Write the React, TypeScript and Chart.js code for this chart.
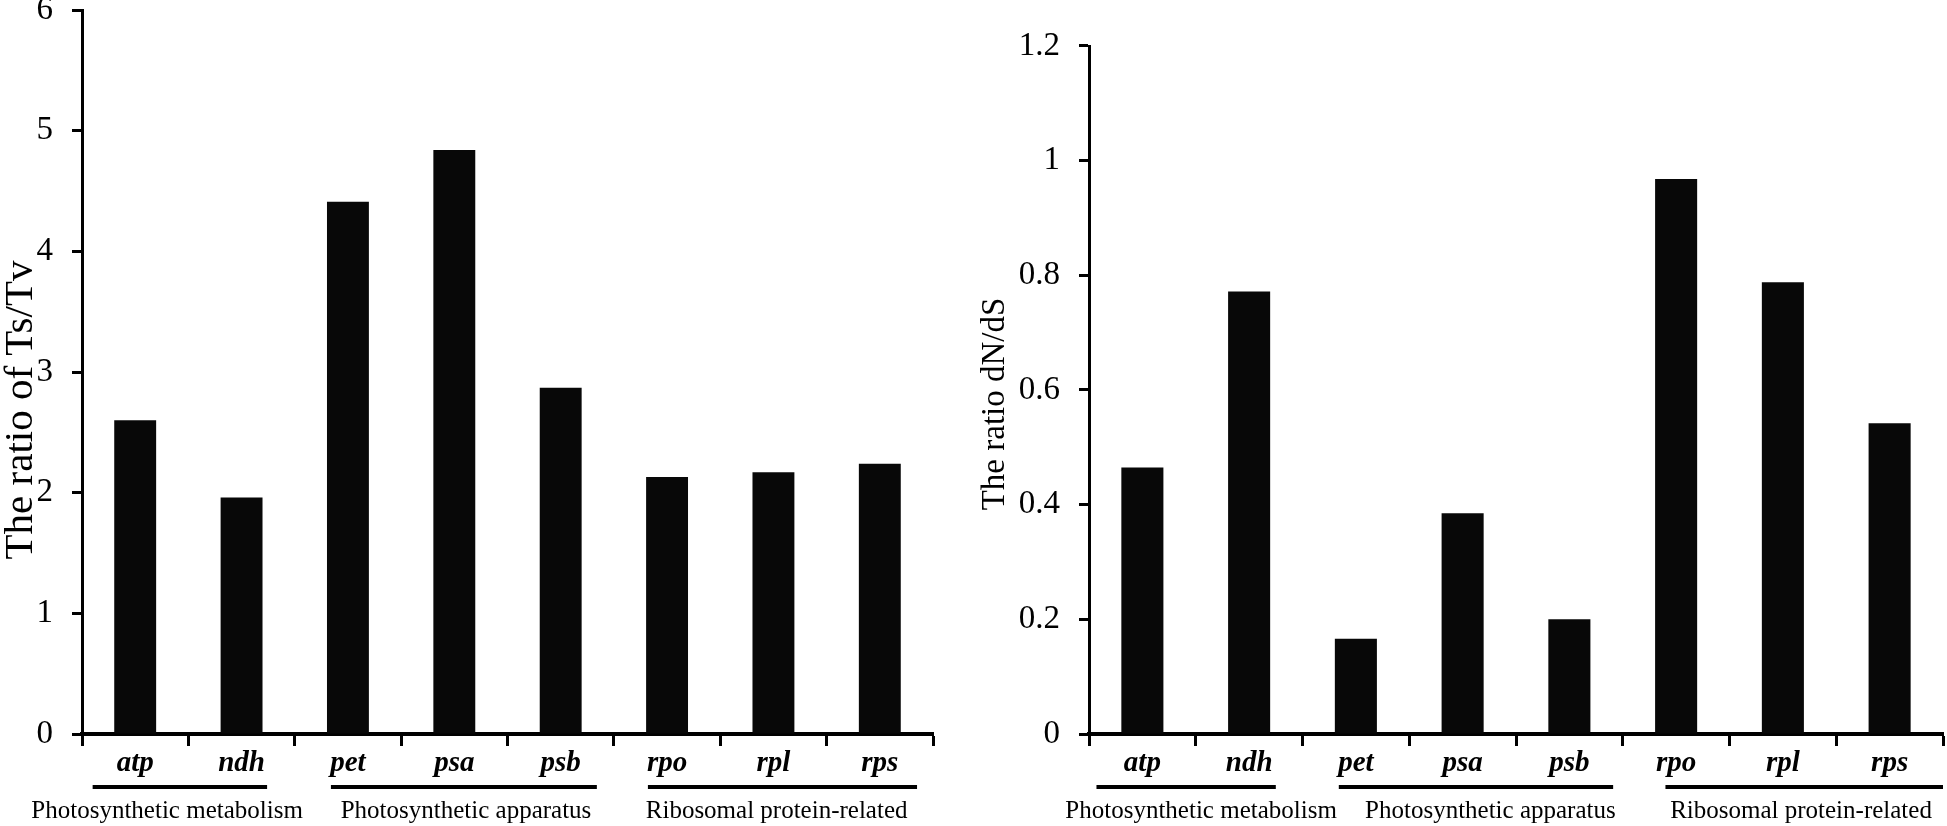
import React, { useEffect, useRef } from 'react';
import { Chart, registerables } from 'chart.js';

Chart.register(...registerables);

const categories = ['atp', 'ndh', 'pet', 'psa', 'psb', 'rpo', 'rpl', 'rps'];
const tsTvValues = [2.6, 1.96, 4.41, 4.84, 2.87, 2.13, 2.17, 2.24];
const dnDsValues = [0.465, 0.772, 0.166, 0.385, 0.2, 0.968, 0.788, 0.542];
const tsTvTickLabels = ['0', '1', '2', '3', '4', '5', '6'];
const dnDsTickLabels = ['0', '0.2', '0.4', '0.6', '0.8', '1', '1.2'];
const groupNames = ['Photosynthetic metabolism', 'Photosynthetic apparatus', 'Ribosomal protein-related'];
// group underline spans and label centres, in category-index units
const leftGroupStart = [-0.4, 1.84, 4.82];
const leftGroupEnd = [1.24, 4.34, 7.35];
const leftGroupCenter = [0.3, 3.11, 6.03];
const rightGroupStart = [-0.43, 1.84, 4.9];
const rightGroupEnd = [1.25, 4.41, 7.5];
const rightGroupCenter = [0.55, 3.26, 6.17];

const FONT = '"Liberation Serif", "Times New Roman", serif';

type PanelProps = {
  left: number;
  width: number;
  padTop: number;
  padRight: number;
  yWidth: number;
  values: number[];
  max: number;
  step: number;
  tickLabels: string[];
  title: string;
  titleSize: number;
  titleX: number;
  titleY: number;
  gStart: number[];
  gEnd: number[];
  gCenter: number[];
};

const CANVAS_TOP = -30;
const CANVAS_H = 856;
const X_AXIS_H = 92;

function BarPanel(p: PanelProps) {
  const ref = useRef<HTMLCanvasElement | null>(null);
  useEffect(() => {
    if (!ref.current) return;
    const overlay = {
      id: 'overlay',
      afterDraw(chart: any) {
        const ctx = chart.ctx;
        const xs = chart.scales.x;
        const ca = chart.chartArea;
        ctx.save();
        ctx.fillStyle = '#000';
        for (let i = 0; i < groupNames.length; i++) {
          const x1 = xs.getPixelForValue(p.gStart[i]);
          const x2 = xs.getPixelForValue(p.gEnd[i]);
          ctx.fillRect(x1, ca.bottom + 51, x2 - x1, 4);
          ctx.font = '25px ' + FONT;
          ctx.textAlign = 'center';
          ctx.textBaseline = 'alphabetic';
          ctx.fillText(groupNames[i], xs.getPixelForValue(p.gCenter[i]), ca.bottom + 84);
        }
        ctx.translate(p.titleX, p.titleY);
        ctx.rotate(-Math.PI / 2);
        ctx.font = p.titleSize + 'px ' + FONT;
        ctx.textAlign = 'center';
        ctx.textBaseline = 'middle';
        ctx.fillText(p.title, 0, 0);
        ctx.restore();
      },
    };
    const chart = new Chart(ref.current, {
      type: 'bar',
      data: {
        labels: categories,
        datasets: [
          {
            data: p.values,
            backgroundColor: '#080808',
            borderWidth: 0,
            categoryPercentage: 1,
            barPercentage: 0.394,
          },
        ],
      },
      options: {
        responsive: false,
        animation: false,
        devicePixelRatio: 1,
        layout: { padding: { top: p.padTop, right: p.padRight, bottom: 0, left: 0 } },
        plugins: { legend: { display: false }, tooltip: { enabled: false }, title: { display: false } },
        scales: {
          x: {
            type: 'category',
            afterFit(scale: any) {
              scale.height = X_AXIS_H;
            },
            grid: {
              offset: true,
              drawOnChartArea: false,
              drawTicks: true,
              tickLength: 12,
              tickWidth: 3,
              tickColor: '#000',
              color: '#000',
            },
            border: { display: true, color: '#000', width: 4 },
            ticks: {
              color: '#000',
              padding: 0,
              maxRotation: 0,
              autoSkip: false,
              font: { family: FONT, size: 29, style: 'italic', weight: 'bold' },
            },
          },
          y: {
            min: 0,
            max: p.max,
            afterFit(scale: any) {
              scale.width = p.yWidth;
            },
            afterBuildTicks(scale: any) {
              scale.ticks = p.tickLabels.map((_, i) => ({ value: i * p.step }));
            },
            grid: {
              drawOnChartArea: false,
              drawTicks: true,
              tickLength: 10,
              tickWidth: 3,
              tickColor: '#000',
              color: '#000',
            },
            border: { display: true, color: '#000', width: 3 },
            ticks: {
              color: '#000',
              padding: 19,
              callback: (_v: any, i: number) => p.tickLabels[i],
              font: { family: FONT, size: 33 },
            },
          },
        },
      },
      plugins: [overlay],
    });
    return () => chart.destroy();
  }, []);
  return (
    <canvas
      ref={ref}
      width={p.width}
      height={CANVAS_H}
      style={{ position: 'absolute', left: p.left, top: CANVAS_TOP, width: p.width, height: CANVAS_H }}
    />
  );
}

export default function App() {
  return (
    <div style={{ position: 'absolute', left: 0, top: 0, width: 1947, height: 826, background: '#fff', overflow: 'hidden' }}>
      <BarPanel
        left={0}
        width={975}
        padTop={40}
        padRight={42}
        yWidth={82}
        values={tsTvValues}
        max={6}
        step={1}
        tickLabels={tsTvTickLabels}
        title="The ratio of Ts/Tv"
        titleSize={41}
        titleX={21}
        titleY={440}
        gStart={leftGroupStart}
        gEnd={leftGroupEnd}
        gCenter={leftGroupCenter}
      />
      <BarPanel
        left={980}
        width={967}
        padTop={76}
        padRight={4}
        yWidth={109}
        values={dnDsValues}
        max={1.2}
        step={0.2}
        tickLabels={dnDsTickLabels}
        title="The ratio dN/dS"
        titleSize={33}
        titleX={15}
        titleY={434}
        gStart={rightGroupStart}
        gEnd={rightGroupEnd}
        gCenter={rightGroupCenter}
      />
    </div>
  );
}
